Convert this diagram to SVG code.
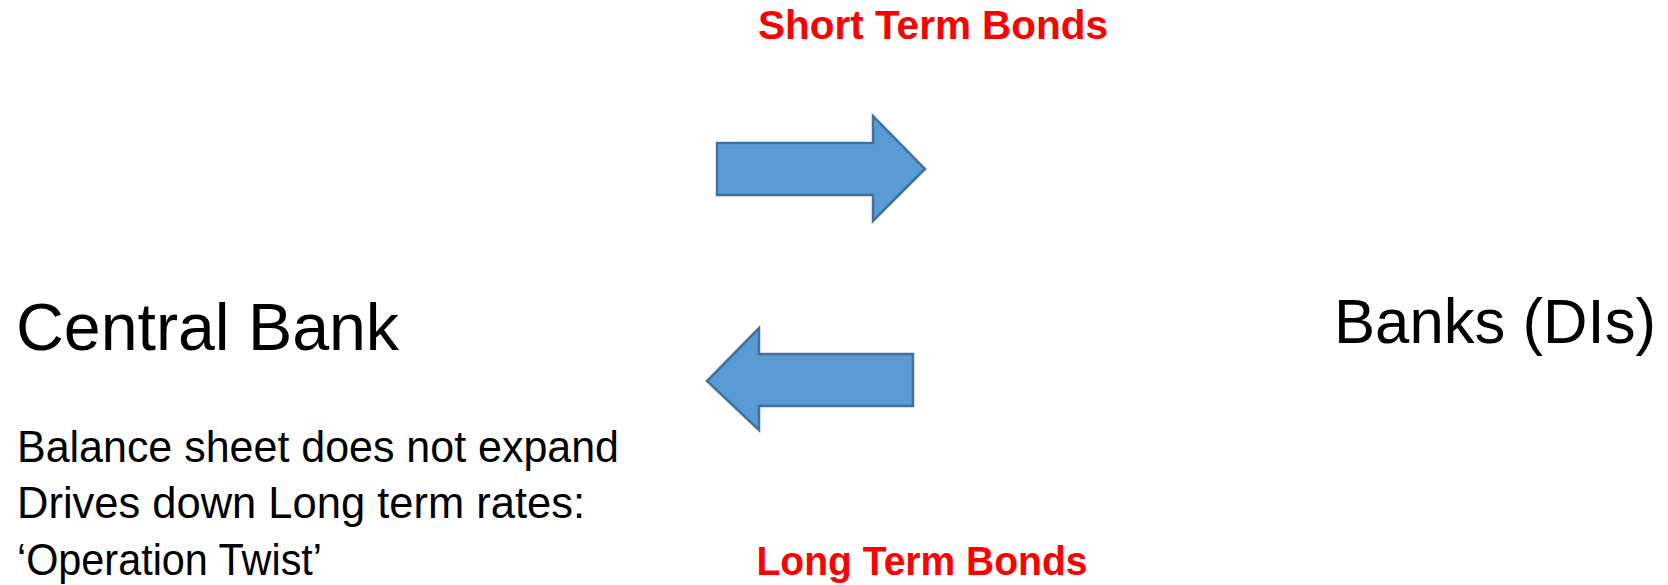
<svg xmlns="http://www.w3.org/2000/svg" width="1668" height="585" viewBox="0 0 1668 585">
<style>
.arrow{fill:#5B9BD5;stroke:#41719C;stroke-width:2.5;stroke-linejoin:miter}
.big{font-family:"Liberation Sans",Arial,sans-serif;font-size:67px;fill:#000}
.body{font-family:"Liberation Sans",Arial,sans-serif;font-size:44px;fill:#000}
.red{font-family:"Liberation Sans",Arial,sans-serif;font-size:40px;font-weight:bold;fill:#FF0000;text-anchor:middle}
</style>
<rect width="1668" height="585" fill="#fff"/>
<g id="central-bank">
<text class="big" x="16" y="350" textLength="383" lengthAdjust="spacingAndGlyphs">Central Bank</text>
<text class="body" x="17" y="462" textLength="602" lengthAdjust="spacingAndGlyphs">Balance sheet does not expand</text>
<text class="body" x="17" y="518" textLength="568" lengthAdjust="spacingAndGlyphs">Drives down Long term rates:</text>
<text class="body" x="17" y="575" textLength="305" lengthAdjust="spacingAndGlyphs">‘Operation Twist’</text>
</g>
<g id="banks">
<text class="big" x="1334" y="343" style="font-size:63px" textLength="322" lengthAdjust="spacingAndGlyphs">Banks (DIs)</text>
</g>
<g id="connectors">
<g id="short-term">
<path class="arrow" d="M717,143 H873 V116 L925,169 L873,221 V195 H717 Z"/>
<text class="red" x="933" y="39" textLength="350" lengthAdjust="spacingAndGlyphs">Short Term Bonds</text>
</g>
<g id="long-term">
<path class="arrow" d="M913,354 H759 V328 L707,381 L759,430 V406 H913 Z"/>
<text class="red" x="922" y="575" textLength="331" lengthAdjust="spacingAndGlyphs">Long Term Bonds</text>
</g>
</g>
</svg>
